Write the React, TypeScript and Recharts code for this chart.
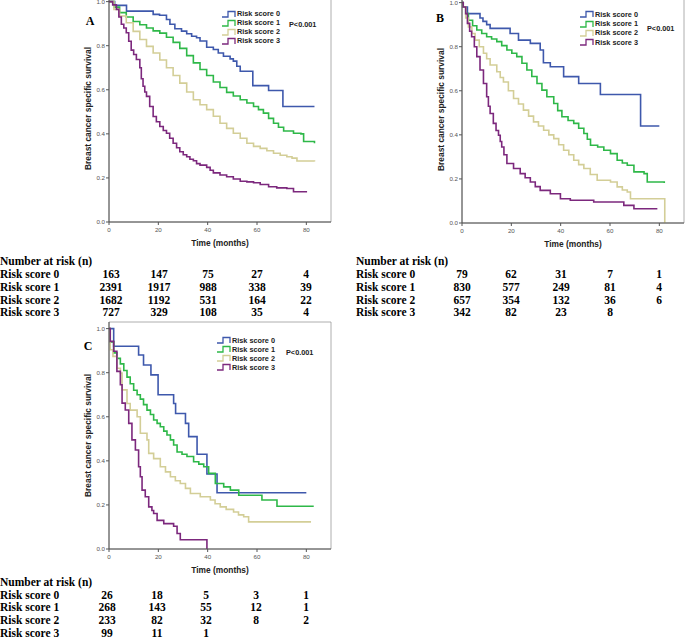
import React from 'react';
import { LineChart, Line, XAxis, YAxis, ReferenceArea, Legend } from 'recharts';

const SERIES = ['Risk score 0', 'Risk score 1', 'Risk score 2', 'Risk score 3'];
const COLORS = ['#3E58AC', '#2EB848', '#D3CE97', '#7C287D'];
const X_TICKS = [0, 20, 40, 60, 80];
const Y_TICKS = [0, 0.2, 0.4, 0.6, 0.8, 1.0];

// Panel A, [months, survival]
const A0 = [[0, 1], [2.3, 0.983], [7.1, 0.957], [17.9, 0.942], [20.5, 0.938], [23.3, 0.919], [24.7, 0.897], [26.7, 0.877], [29.4, 0.866], [31.5, 0.854], [33.5, 0.843], [35.5, 0.836], [36.9, 0.821], [39.6, 0.793], [42.3, 0.783], [44.3, 0.767], [46.4, 0.752], [49.1, 0.74], [50.4, 0.73], [51.8, 0.707], [53.2, 0.684], [58.3, 0.619], [64.7, 0.597], [70.5, 0.524], [83.3, 0.524]];
const A1 = [[0, 1], [2, 0.975], [4.3, 0.95], [7, 0.93], [9.8, 0.91], [12.5, 0.895], [15.2, 0.88], [17.9, 0.867], [20.6, 0.857], [23.3, 0.838], [26, 0.815], [28.7, 0.788], [31.5, 0.755], [34.2, 0.722], [36.9, 0.692], [39.6, 0.665], [42.3, 0.635], [45, 0.61], [47.7, 0.588], [50.4, 0.572], [53.2, 0.555], [55.9, 0.54], [58.6, 0.524], [60.6, 0.51], [62.6, 0.494], [64.7, 0.47], [66.7, 0.448], [68.7, 0.43], [70.8, 0.413], [74.8, 0.403], [77.8, 0.4], [78.9, 0.365], [83.3, 0.357]];
const A2 = [[0, 1], [2, 0.965], [4.3, 0.935], [7, 0.904], [9.8, 0.865], [12.5, 0.828], [15.2, 0.797], [17.9, 0.767], [20.6, 0.735], [23.3, 0.7], [26, 0.665], [28.7, 0.63], [31.5, 0.59], [34.2, 0.555], [36.9, 0.532], [39.6, 0.51], [42.3, 0.48], [45, 0.448], [47.7, 0.425], [50.4, 0.403], [53.2, 0.38], [55.9, 0.357], [58.6, 0.343], [61.3, 0.334], [64, 0.323], [66.7, 0.312], [69.4, 0.303], [72.1, 0.296], [74.2, 0.29], [76.2, 0.277], [83.3, 0.274]];
const A3 = [[0, 1], [1.5, 0.985], [3, 0.965], [4, 0.93], [5, 0.897], [6, 0.88], [7, 0.859], [8, 0.82], [9, 0.78], [10, 0.76], [11.1, 0.737], [12.5, 0.7], [13.1, 0.65], [13.8, 0.616], [14.5, 0.59], [15.2, 0.57], [16.5, 0.524], [17.9, 0.479], [19.2, 0.455], [20.6, 0.433], [22, 0.415], [23.3, 0.403], [24.6, 0.38], [26, 0.357], [27.4, 0.337], [28.7, 0.319], [30.1, 0.305], [31.5, 0.296], [32.8, 0.285], [34.2, 0.278], [35.5, 0.265], [36.9, 0.258], [39.6, 0.248], [41, 0.235], [42.3, 0.223], [45, 0.213], [47.7, 0.205], [50.4, 0.195], [53.2, 0.185], [55.9, 0.182], [58.6, 0.178], [61.3, 0.17], [64.7, 0.16], [68, 0.155], [72.1, 0.152], [74.8, 0.137], [80.3, 0.137]];

// Panel B
const B0 = [[0, 1], [0.3, 0.98], [2.2, 0.95], [7.3, 0.93], [8.5, 0.915], [10, 0.9], [11.4, 0.883], [19.5, 0.86], [22.9, 0.83], [27.7, 0.815], [31.7, 0.785], [33, 0.727], [35.8, 0.709], [41.2, 0.664], [47.3, 0.633], [56.1, 0.583], [72.4, 0.44], [80, 0.44]];
const B1 = [[0, 1], [0.5, 0.98], [1.5, 0.95], [2.6, 0.92], [4.3, 0.895], [6, 0.876], [8, 0.86], [10, 0.845], [12, 0.835], [14.1, 0.823], [16.1, 0.805], [18.2, 0.785], [20.2, 0.77], [22.2, 0.755], [24.3, 0.725], [26.3, 0.694], [28.3, 0.665], [30.4, 0.633], [32.4, 0.603], [34.4, 0.573], [37.2, 0.542], [38.8, 0.51], [40.5, 0.482], [43, 0.465], [45.3, 0.452], [47.3, 0.43], [49.4, 0.406], [50.8, 0.38], [52.1, 0.353], [55, 0.345], [57.5, 0.33], [60.2, 0.315], [62.9, 0.285], [65, 0.272], [67, 0.262], [69.7, 0.232], [73.8, 0.224], [75.1, 0.186], [82, 0.182]];
const B2 = [[0, 1], [0.5, 0.98], [1.5, 0.93], [2.6, 0.89], [4, 0.86], [5.3, 0.83], [7, 0.8], [8.7, 0.77], [10, 0.745], [11.4, 0.717], [14.1, 0.686], [15.5, 0.66], [16.8, 0.64], [18.8, 0.6], [20.9, 0.565], [22.9, 0.54], [24.9, 0.512], [27, 0.485], [29, 0.459], [31, 0.44], [33.1, 0.421], [35.2, 0.4], [37.2, 0.383], [39.2, 0.355], [41.2, 0.33], [43.3, 0.31], [45.3, 0.285], [47.3, 0.265], [49.4, 0.247], [52, 0.22], [54.8, 0.194], [60.2, 0.186], [62.9, 0.164], [65, 0.15], [67, 0.141], [68.3, 0.11], [82.2, 0]];
const B3 = [[0, 1], [0.5, 0.98], [1.5, 0.95], [2.2, 0.906], [3.1, 0.87], [3.9, 0.845], [5, 0.8], [6, 0.755], [7.3, 0.694], [8.7, 0.633], [10, 0.573], [10.7, 0.53], [11.4, 0.497], [12.7, 0.452], [13.8, 0.42], [14.8, 0.398], [15.5, 0.37], [16.1, 0.345], [17, 0.31], [18.2, 0.27], [20.9, 0.247], [23.6, 0.224], [25.6, 0.205], [27.7, 0.186], [29.7, 0.165], [31.7, 0.148], [35.8, 0.133], [39.9, 0.11], [43.9, 0.103], [53.4, 0.095], [65.6, 0.08], [69.7, 0.065], [79.2, 0.065]];

// Panel C
const C0 = [[0, 1], [1.9, 0.92], [12, 0.88], [14, 0.835], [17, 0.79], [19.9, 0.7], [26.2, 0.66], [27, 0.615], [31, 0.57], [32.3, 0.51], [35.7, 0.43], [39.7, 0.34], [43.8, 0.255], [80, 0.255]];
const C1 = [[0, 1], [0.5, 0.94], [1.9, 0.89], [3.2, 0.865], [4.6, 0.84], [6, 0.81], [7.3, 0.78], [8.6, 0.75], [10, 0.72], [11.4, 0.7], [12.7, 0.68], [14, 0.655], [15.4, 0.63], [16.8, 0.61], [18.1, 0.585], [19.5, 0.57], [20.8, 0.555], [22.2, 0.535], [23.5, 0.517], [24.9, 0.495], [26.2, 0.472], [27.6, 0.44], [29.6, 0.43], [31.6, 0.42], [34.3, 0.396], [36.4, 0.385], [38.4, 0.373], [40.4, 0.343], [43.1, 0.297], [46.5, 0.282], [49.2, 0.267], [52.6, 0.244], [62, 0.222], [68.1, 0.194], [83, 0.194]];
const C2 = [[0, 1], [0.5, 0.904], [1.6, 0.874], [3.2, 0.82], [4.6, 0.798], [5.3, 0.722], [7.3, 0.66], [8.6, 0.63], [11.4, 0.6], [12.7, 0.525], [15.4, 0.495], [16.1, 0.434], [18.1, 0.41], [20.8, 0.373], [22.9, 0.35], [24.9, 0.328], [26.9, 0.31], [28.9, 0.297], [31, 0.275], [33, 0.252], [37, 0.237], [41.1, 0.222], [43, 0.205], [45.1, 0.191], [47.5, 0.18], [50.5, 0.168], [52.5, 0.155], [54.6, 0.146], [56.6, 0.123], [81.9, 0.123]];
const C3 = [[0, 1], [0.5, 0.942], [1.9, 0.897], [3.2, 0.806], [4.6, 0.745], [5.3, 0.662], [6.6, 0.631], [8, 0.57], [9.3, 0.495], [10.7, 0.449], [12, 0.373], [12.7, 0.328], [13.4, 0.267], [14.7, 0.237], [16.1, 0.191], [17.4, 0.175], [18.1, 0.161], [19.5, 0.13], [22.2, 0.115], [26.2, 0.103], [27.6, 0.07], [28.9, 0.042], [39.7, 0]];

// numbers at risk at 0, 20, 40, 60, 80 months
const RISK_A = [[163, 147, 75, 27, 4], [2391, 1917, 988, 338, 39], [1682, 1192, 531, 164, 22], [727, 329, 108, 35, 4]];
const RISK_B = [[79, 62, 31, 7, 1], [830, 577, 249, 81, 4], [657, 354, 132, 36, 6], [342, 82, 23, 8]];
const RISK_C = [[26, 18, 5, 3, 1], [268, 143, 55, 12, 1], [233, 82, 32, 8, 2], [99, 11, 1]];

const SANS = 'Arial, "Liberation Sans", sans-serif';
const SERIF = '"Times New Roman", "Liberation Serif", serif';

const toPts = (arr: number[][]) => arr.map(([t, s]) => ({ t, s }));

function StepLegend(props: any) {
  const { payload, rowH } = props;
  return (
    <div style={{ fontFamily: SANS, fontWeight: 'bold', fontSize: 7.3, color: '#222' }}>
      {payload.map((entry: any) => (
        <div key={entry.value} style={{ display: 'flex', alignItems: 'center', height: rowH }}>
          <svg width={14} height={8} style={{ marginRight: 1 }}>
            <path d="M0,7 H6 V1.5 H13 V7" stroke={entry.color} strokeWidth={1.3} fill="none" />
          </svg>
          <span>{entry.value}</span>
        </div>
      ))}
    </div>
  );
}

interface PanelProps {
  letter: string;
  curves: number[][][];
  x0: number; // page x of y axis
  y0: number; // page y of 0.0
  legendX: number;
  rowH: number;
  pX: number;
  pY: number;
  letterX: number;
  letterY: number;
}

function KMPanel({ letter, curves, x0, y0, legendX, rowH, pX, pY, letterX, letterY }: PanelProps) {
  const tickStyle = { fontSize: 6.2, fill: '#555', fontFamily: SANS };
  const titleStyle = { fontSize: 8.4, fontWeight: 'bold', fill: '#222', fontFamily: SANS };
  return (
    <>
      <div style={{ position: 'absolute', left: x0 - 109, top: y0 - 237 }}>
        <LineChart width={341} height={273} margin={{ top: 10, right: 10, left: 70, bottom: 0 }}>
          <XAxis
            dataKey="t"
            type="number"
            domain={[0, 90]}
            ticks={X_TICKS}
            height={36}
            stroke="#555"
            tickSize={3}
            tickMargin={3}
            tick={tickStyle}
            label={{ value: 'Time (months)', position: 'insideBottom', offset: 12, ...titleStyle }}
          />
          <YAxis
            type="number"
            domain={[0, 1.03]}
            ticks={Y_TICKS}
            width={39}
            stroke="#555"
            tickSize={3}
            tickMargin={1}
            tick={tickStyle}
            tickFormatter={(v: number) => v.toFixed(1)}
            label={{ value: 'Breast cancer specific survival', angle: -90, position: 'center', dx: -1, ...titleStyle }}
          />
          <ReferenceArea x1={0} x2={90} y1={0} y2={1.03} fill="none" stroke="#999" strokeWidth={0.8} />
          {curves.map((c, i) => (
            <Line
              key={SERIES[i]}
              data={toPts(c)}
              dataKey="s"
              name={SERIES[i]}
              type="stepAfter"
              stroke={COLORS[i]}
              strokeWidth={1.6}
              dot={false}
              activeDot={false}
              isAnimationActive={false}
            />
          ))}
          <Legend
            layout="horizontal"
            verticalAlign="middle"
            align="center"
            content={(p: any) => <StepLegend {...p} rowH={rowH} />}
            wrapperStyle={{ left: legendX, top: 24, width: 110, height: 'auto' }}
          />
        </LineChart>
      </div>
      <div style={{ position: 'absolute', left: pX, top: pY - 5, fontFamily: SANS, fontWeight: 'bold', fontSize: 7.3, color: '#222', lineHeight: '10px' }}>
        P&lt;0.001
      </div>
      <div style={{ position: 'absolute', left: letterX - 6, top: letterY - 8, width: 12, textAlign: 'center', fontFamily: SERIF, fontWeight: 'bold', fontSize: 12, lineHeight: '16px' }}>
        {letter}
      </div>
    </>
  );
}

interface TableProps {
  left: number;
  headerY: number;
  rowYs: number[];
  xs: number[];
  rows: number[][];
}

function RiskTable({ left, headerY, rowYs, xs, rows }: TableProps) {
  const base = { position: 'absolute' as const, fontFamily: SERIF, fontWeight: 'bold' as const, fontSize: 11.5, lineHeight: '14px', color: '#000', whiteSpace: 'nowrap' as const };
  return (
    <>
      <div style={{ ...base, left, top: headerY - 7 }}>Number at risk (n)</div>
      {rows.map((r, i) => (
        <React.Fragment key={i}>
          <div style={{ ...base, left, top: rowYs[i] - 7 }}>{SERIES[i]}</div>
          {r.map((v, j) => (
            <div key={j} style={{ ...base, left: xs[j] - 20, width: 40, textAlign: 'center', top: rowYs[i] - 7 }}>
              {v}
            </div>
          ))}
        </React.Fragment>
      ))}
    </>
  );
}

export default function App() {
  return (
    <div style={{ position: 'absolute', left: 0, top: 0, width: 685, height: 639, overflow: 'hidden', background: '#fff' }}>
      <KMPanel letter="A" curves={[A0, A1, A2, A3]} x0={109} y0={222} legendX={222} rowH={9} pX={289} pY={25} letterX={90} letterY={21} />
      <KMPanel letter="B" curves={[B0, B1, B2, B3]} x0={462} y0={222.7} legendX={227} rowH={9.3} pX={647} pY={29} letterX={440} letterY={18} />
      <KMPanel letter="C" curves={[C0, C1, C2, C3]} x0={109} y0={548.7} legendX={217} rowH={9} pX={286} pY={353} letterX={88} letterY={346} />
      <RiskTable left={0} headerY={261} rowYs={[273.5, 286.5, 299.5, 312]} xs={[111, 159, 208, 257, 306]} rows={RISK_A} />
      <RiskTable left={356} headerY={261} rowYs={[273.5, 286.5, 299.5, 312]} xs={[462, 511, 561, 610, 659]} rows={RISK_B} />
      <RiskTable left={0} headerY={582} rowYs={[594.5, 607, 620, 632.5]} xs={[107, 157, 206, 256, 306]} rows={RISK_C} />
    </div>
  );
}
